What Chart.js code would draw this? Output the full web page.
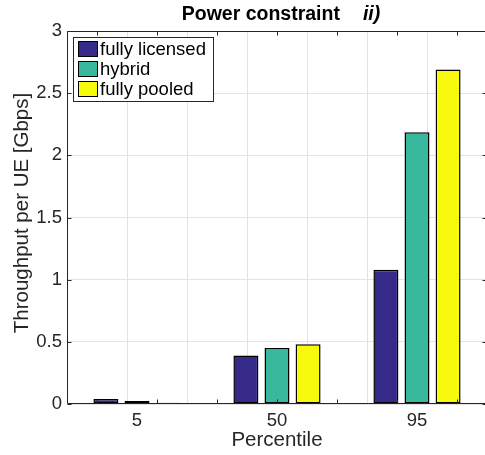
<!DOCTYPE html>
<html>
<head>
<meta charset="utf-8">
<script src="https://cdn.jsdelivr.net/npm/chart.js@4.4.1/dist/chart.umd.min.js"></script>
<style>
  html, body { margin: 0; padding: 0; background: #fff; overflow: hidden; }
  #wrap { position: relative; width: 488px; height: 455px; }
</style>
</head>
<body>
<div id="wrap"><canvas id="chart" width="488" height="455"></canvas></div>
<script>
// Throughput per UE by percentile
const percentiles = ['5', '50', '95'];
const seriesNames = ['fully licensed', 'hybrid', 'fully pooled'];
const fullyLicensed = [0.04, 0.39, 1.08];
const hybrid = [0.024, 0.45, 2.185];
const fullyPooled = [0.01, 0.48, 2.69];
const seriesColors = ['#352a87', '#38b99e', '#f8fa0d'];
const yTicks = [0, 0.5, 1, 1.5, 2, 2.5, 3];

const FONT = 'Liberation Sans, Arial, Helvetica, sans-serif';
const INK = '#262626';

// axes box, inward tick marks, legend, y label and title, drawn MATLAB-style
const framePlugin = {
  id: 'frame',
  afterDatasetsDraw(chart) {
    const { ctx, chartArea: a, scales } = chart;
    const L = Math.round(a.left) + 0.5, R = Math.round(a.right) - 0.5;
    const T = Math.round(a.top) + 0.5, B = Math.round(a.bottom) - 0.5;
    ctx.save();
    ctx.strokeStyle = INK;
    ctx.lineWidth = 1;
    ctx.beginPath();
    ctx.rect(L, T, R - L, B - T);
    // y ticks on both sides
    yTicks.forEach(v => {
      const y = Math.round(scales.y.getPixelForValue(v)) + 0.5;
      ctx.moveTo(L, y); ctx.lineTo(L + 4, y);
      ctx.moveTo(R, y); ctx.lineTo(R - 4, y);
    });
    // x ticks every half category, top and bottom
    for (let v = 0.5; v <= 3.5; v += 0.5) {
      const x = Math.round(scales.xg.getPixelForValue(v)) + 0.5;
      ctx.moveTo(x, B); ctx.lineTo(x, B - 4);
      ctx.moveTo(x, T); ctx.lineTo(x, T + 4);
    }
    ctx.stroke();
    ctx.restore();
  },
  afterDraw(chart) {
    const { ctx } = chart;
    ctx.save();

    // legend box
    const bx = 73, by = 37, bw = 140, bh = 64;
    ctx.fillStyle = '#fff';
    ctx.fillRect(bx, by, bw, bh);
    ctx.strokeStyle = INK;
    ctx.lineWidth = 1;
    ctx.strokeRect(bx + 0.5, by + 0.5, bw, bh);
    ctx.font = '18.5px ' + FONT;
    ctx.textBaseline = 'middle';
    ctx.textAlign = 'left';
    chart.data.datasets.forEach((ds, i) => {
      const cy = 49 + i * 20;
      ctx.fillStyle = ds.backgroundColor;
      ctx.fillRect(78, cy - 8, 20, 16);
      ctx.strokeStyle = '#000';
      ctx.strokeRect(78.5, cy - 7.5, 19, 15);
      ctx.fillStyle = '#000';
      ctx.fillText(ds.label, 100, cy + 1);
    });

    // y axis label
    ctx.save();
    ctx.translate(22, 213);
    ctx.rotate(-Math.PI / 2);
    ctx.textAlign = 'center';
    ctx.fillStyle = INK;
    ctx.font = '20.5px ' + FONT;
    ctx.fillText('Throughput per UE [Gbps]', 0, 0);
    ctx.restore();

    // title: bold text with a bold italic tag
    ctx.fillStyle = '#000';
    ctx.textBaseline = 'middle';
    ctx.textAlign = 'left';
    ctx.font = 'bold 19.5px ' + FONT;
    const main = 'Power constraint';
    const tag = 'ii)';
    const gap = 23;
    const w1 = ctx.measureText(main).width;
    ctx.font = 'italic bold 19.5px ' + FONT;
    const w2 = ctx.measureText(tag).width;
    const x0 = 281 - (w1 + gap + w2) / 2;
    ctx.font = 'bold 19.5px ' + FONT;
    ctx.fillText(main, x0, 15);
    ctx.font = 'italic bold 19.5px ' + FONT;
    ctx.fillText(tag, x0 + w1 + gap, 15);
    ctx.restore();
  }
};

const datasets = [fullyLicensed, hybrid, fullyPooled].map((values, i) => ({
  label: seriesNames[i],
  data: values,
  backgroundColor: seriesColors[i],
  borderColor: '#000',
  borderWidth: 1.5,
  borderSkipped: false,
  categoryPercentage: 0.666,
  barPercentage: 0.804
}));

new Chart(document.getElementById('chart'), {
  type: 'bar',
  data: { labels: percentiles, datasets },
  plugins: [framePlugin],
  options: {
    responsive: false,
    animation: false,
    devicePixelRatio: 1,
    layout: { padding: { top: 31, right: 1, left: 0, bottom: 0 } },
    plugins: {
      legend: { display: false },
      title: { display: false },
      tooltip: { enabled: false }
    },
    scales: {
      x: {
        type: 'category',
        offset: true,
        grid: { display: false },
        border: { display: false },
        ticks: { color: INK, font: { family: FONT, size: 18.5 }, padding: -2 },
        title: {
          display: true, text: 'Percentile', color: INK,
          font: { family: FONT, size: 20.5 }, padding: { top: 0, bottom: 2 }
        },
        afterFit(scale) { scale.height = 51; }
      },
      xg: {
        type: 'linear',
        position: 'bottom',
        min: 0.5,
        max: 3.5,
        grid: { color: '#e3e3e3', drawTicks: false },
        border: { display: false },
        ticks: { display: false, stepSize: 0.5 },
        afterFit(scale) { scale.height = 0; }
      },
      y: {
        min: 0,
        max: 3,
        grid: { color: '#e3e3e3', drawTicks: false },
        border: { display: false },
        ticks: {
          stepSize: 0.5, color: INK, padding: 5,
          font: { family: FONT, size: 18.5 },
          callback: v => String(v)
        },
        afterFit(scale) { scale.width = 67; }
      }
    }
  }
});
</script>
</body>
</html>
